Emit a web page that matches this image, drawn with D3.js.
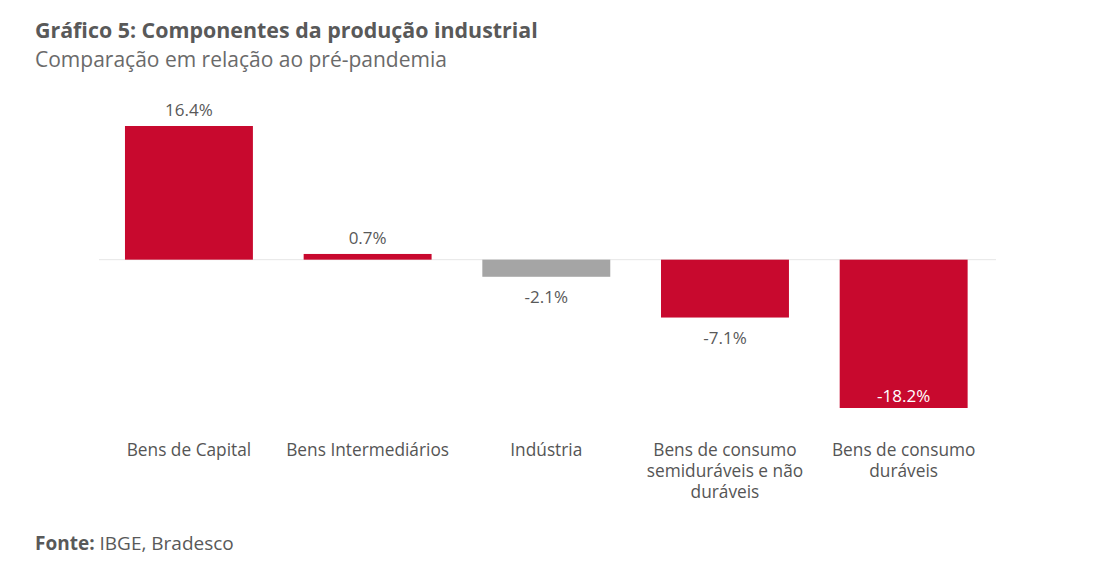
<!DOCTYPE html>
<html>
<head>
<meta charset="utf-8">
<script src="https://cdn.jsdelivr.net/npm/d3@7"></script>
<style>
  html, body { margin: 0; padding: 0; background: #ffffff; }
  svg { display: block; }
  text { font-family: "Open Sans", "Noto Sans", sans-serif; }
</style>
</head>
<body>
<svg id="chart" width="1100" height="561"></svg>
<script>
// Data
const categories = ["Bens de Capital", "Bens Intermediários", "Indústria", "Bens de consumo semiduráveis e não duráveis", "Bens de consumo duráveis"];
const categoryLines = [["Bens de Capital"], ["Bens Intermediários"], ["Indústria"], ["Bens de consumo", "semiduráveis e não", "duráveis"], ["Bens de consumo", "duráveis"]];
const values = [16.4, 0.7, -2.1, -7.1, -18.2];
const valueLabels = ["16.4%", "0.7%", "-2.1%", "-7.1%", "-18.2%"];
const highlight = [false, false, true, false, false];

const svg = d3.select("#chart");
const textColor = "#595959";
const red = "#c8092e";
const grey = "#a5a5a5";

// Title
svg.append("text").attr("x", 35).attr("y", 38)
  .attr("font-size", 21.4).attr("font-weight", 700).attr("fill", "#595959")
  .text("Gráfico 5: Componentes da produção industrial");
svg.append("text").attr("x", 35).attr("y", 67)
  .attr("font-size", 21).attr("fill", "#6a6a6a")
  .text("Comparação em relação ao pré-pandemia");

const x = d3.scaleBand().domain(categories).range([99.6, 993]).paddingInner(0.284).paddingOuter(0.142);
const y = d3.scaleLinear().domain([-18.2, 16.4]).range([408, 126]);

// zero line
svg.append("line").attr("x1", 99).attr("x2", 996).attr("y1", y(0)).attr("y2", y(0))
  .attr("stroke", "#e6e6e6").attr("stroke-width", 1);

const data = categories.map((c, i) => ({c, v: values[i], label: valueLabels[i], lines: categoryLines[i], hl: highlight[i]}));

svg.selectAll("rect.bar").data(data).join("rect").attr("class", "bar")
  .attr("x", d => x(d.c)).attr("width", x.bandwidth())
  .attr("y", d => y(Math.max(0, d.v)))
  .attr("height", d => Math.abs(y(d.v) - y(0)))
  .attr("fill", d => d.hl ? grey : red);

// value labels
svg.selectAll("text.val").data(data).join("text").attr("class", "val")
  .attr("x", d => x(d.c) + x.bandwidth() / 2)
  .attr("y", d => {
    if (d.v >= 0) return y(d.v) - 10;
    if (d.v < -15) return y(d.v) - 6;
    return y(d.v) + 26;
  })
  .attr("text-anchor", "middle").attr("font-size", 17)
  .attr("fill", d => d.v < -15 ? "#ffffff" : textColor)
  .text(d => d.label);

// category labels
const cat = svg.selectAll("text.cat").data(data).join("text").attr("class", "cat")
  .attr("text-anchor", "middle").attr("font-size", 17.3).attr("fill", "#555555");
cat.selectAll("tspan").data(d => d.lines.map(l => ({l, cx: x(d.c) + x.bandwidth() / 2}))).join("tspan")
  .attr("x", t => t.cx).attr("y", (t, i) => 456 + i * 21).text(t => t.l);

// footer
const f = svg.append("text").attr("x", 35).attr("y", 550).attr("font-size", 19).attr("fill", "#595959");
f.append("tspan").attr("font-weight", 700).text("Fonte:");
f.append("tspan").text(" IBGE, Bradesco");
</script>
</body>
</html>
